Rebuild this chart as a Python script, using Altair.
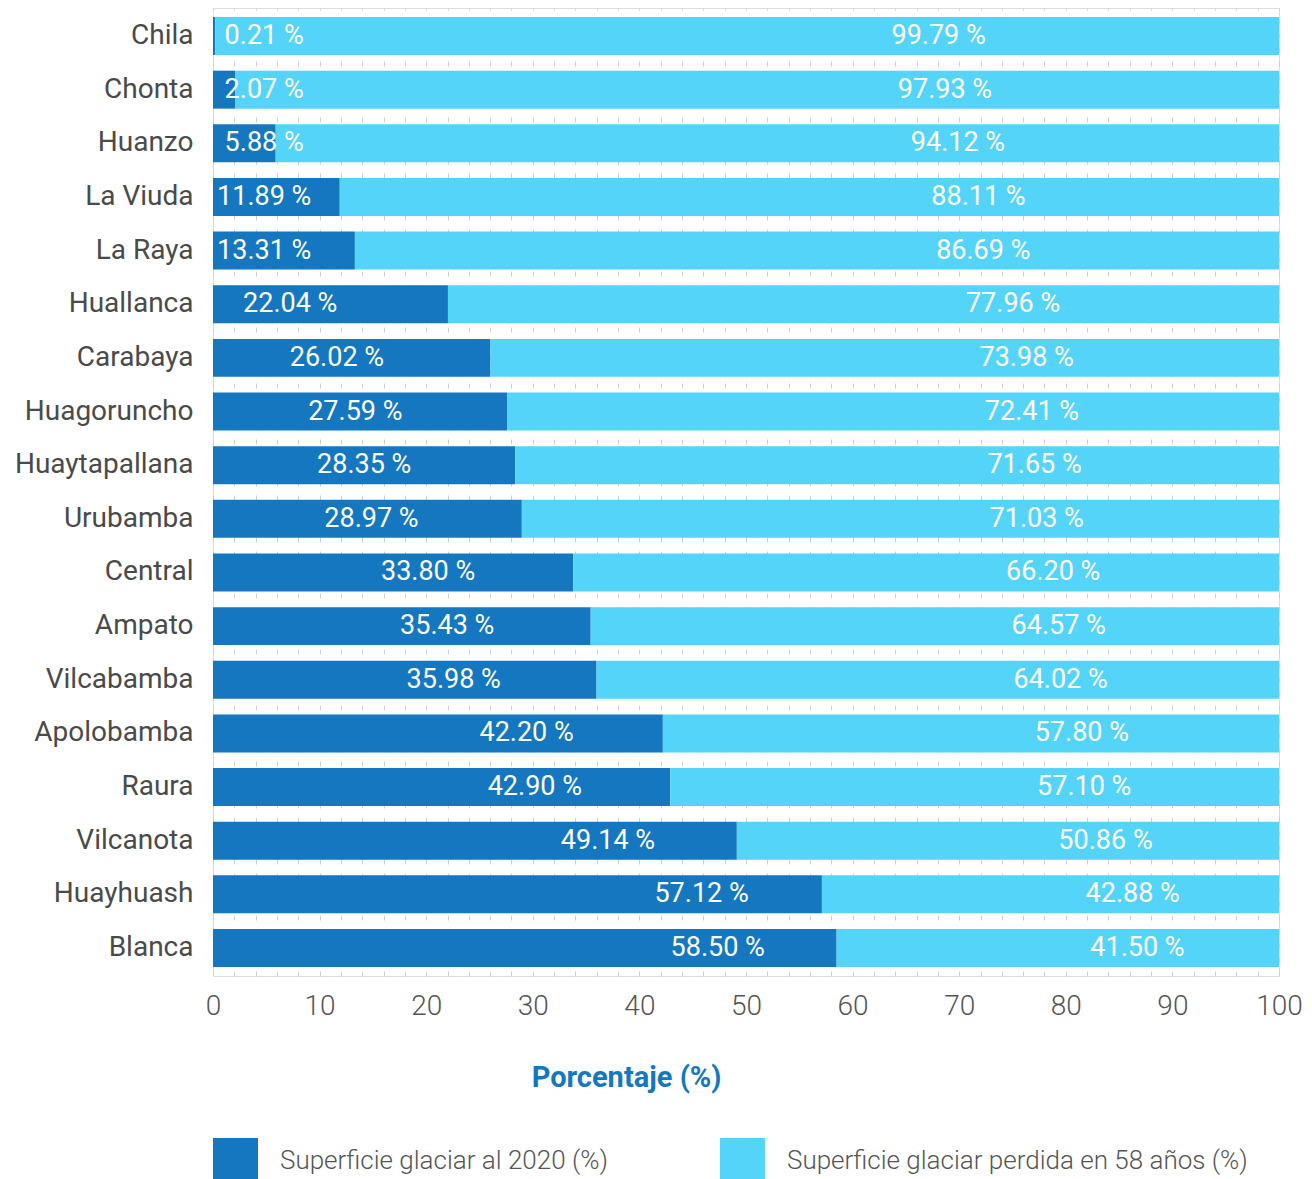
import altair as alt
import pandas as pd

categories = ["Chila", "Chonta", "Huanzo", "La Viuda", "La Raya", "Huallanca",
              "Carabaya", "Huagoruncho", "Huaytapallana", "Urubamba", "Central",
              "Ampato", "Vilcabamba", "Apolobamba", "Raura", "Vilcanota",
              "Huayhuash", "Blanca"]
remaining = [0.21, 2.07, 5.88, 11.89, 13.31, 22.04, 26.02, 27.59, 28.35, 28.97,
             33.80, 35.43, 35.98, 42.20, 42.90, 49.14, 57.12, 58.50]
lost = [99.79, 97.93, 94.12, 88.11, 86.69, 77.96, 73.98, 72.41, 71.65, 71.03,
        66.20, 64.57, 64.02, 57.80, 57.10, 50.86, 42.88, 41.50]
series_names = ["Superficie glaciar al 2020 (%)",
                "Superficie glaciar perdida en 58 años (%)"]
colors = ["#1477C0", "#55D4F9"]

rows = []
for c, r, l in zip(categories, remaining, lost):
    rows.append({"cat": c, "series": series_names[0], "start": 0, "end": r,
                 "lpos": max(4.8, 1.1 * r - 17), "label": f"{r:.2f} %"})
    rows.append({"cat": c, "series": series_names[1], "start": r, "end": r + l,
                 "lpos": r + 0.68 * l, "label": f"{l:.2f} %"})
df = pd.DataFrame(rows)

FONT = "Roboto"

def xaxis():
    return alt.Axis(values=list(range(0, 101, 2)),
                    labelExpr="datum.value % 10 === 0 ? datum.label : ''",
                    grid=True, gridDash=[5, 9], gridColor="#cfcfcf", gridWidth=1,
                    ticks=False, domain=False, labelFontSize=28, labelColor="#555555",
                    labelFont=FONT, labelFontWeight=300, labelPadding=16,
                    labelFlush=False, labelOverlap=False,
                    title="Porcentaje (%)", titleFontSize=29, titleFont=FONT,
                    titleFontWeight="bold", titleColor="#1478C0", titlePadding=43,
                    titleX=413, titleAlign="center")

def yaxis():
    return alt.Axis(title=None, ticks=False, domain=False, labelFontSize=28,
                    labelColor="#4a4a4a", labelFont=FONT, labelPadding=20, grid=False)

yscale = alt.Scale(paddingInner=0.292, paddingOuter=0.168)

bars = alt.Chart(df).mark_bar().encode(
    x=alt.X("start:Q", scale=alt.Scale(domain=[0, 100], nice=False), axis=xaxis()),
    x2="end:Q",
    y=alt.Y("cat:N", sort=categories, scale=yscale, axis=yaxis()),
    color=alt.Color("series:N",
                    scale=alt.Scale(domain=series_names, range=colors),
                    legend=alt.Legend(orient="none", legendX=0, legendY=1130,
                                      direction="horizontal", columns=2,
                                      columnPadding=112, symbolType="square",
                                      symbolSize=2025, symbolStrokeWidth=0,
                                      labelFontSize=26, labelColor="#555555",
                                      labelFont=FONT, labelFontWeight=300,
                                      labelOffset=22, labelLimit=700, title=None)),
)

text = alt.Chart(df).mark_text(color="white", fontSize=27, font=FONT,
                               align="center", baseline="middle").encode(
    x=alt.X("lpos:Q", scale=alt.Scale(domain=[0, 100], nice=False), axis=xaxis()),
    y=alt.Y("cat:N", sort=categories, scale=yscale, axis=yaxis()),
    text="label:N",
)

chart = alt.layer(bars, text).properties(
    width=1066, height=968,
    autosize=alt.AutoSizeParams(type="none"),
    padding={"left": 205, "top": 0, "right": 25, "bottom": 215},
).configure_view(stroke=None).configure(font=FONT)

chart.save("out.html", embed_options={"renderer": "svg", "actions": False})
